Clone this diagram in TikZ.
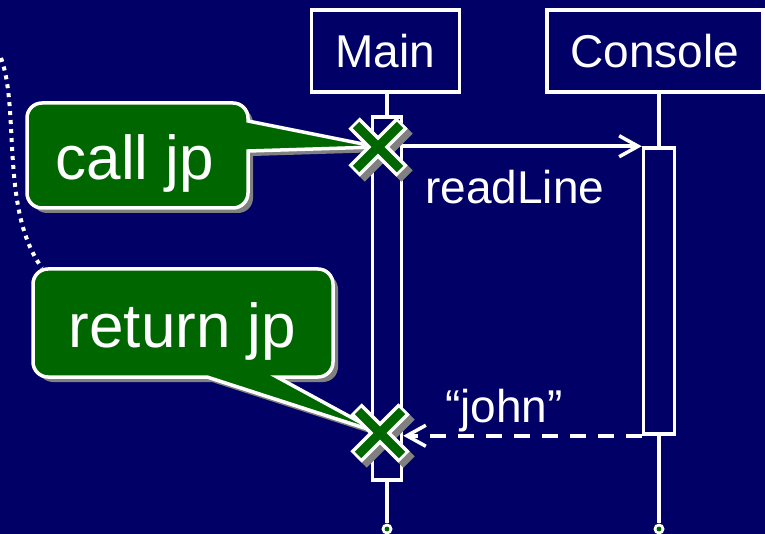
\documentclass[tikz,border=0pt]{standalone}
\usepackage{fontspec}
\setmainfont{Liberation Sans}
\usetikzlibrary{arrows.meta,shadows}
\definecolor{slidebg}{RGB}{0,0,102}
\definecolor{calloutgreen}{RGB}{0,102,0}
\definecolor{shadegray}{RGB}{128,128,128}
\begin{document}
\begin{tikzpicture}[x=1pt,y=-1pt,every node/.style={font=\fontsize{46}{50}\selectfont,text=white,inner sep=0pt},
  obj/.style={draw=white,line width=3.5pt,fill=slidebg,minimum height=82pt},
  act/.style={draw=white,line width=3.5pt,fill=slidebg},
  life/.style={draw=white,line width=3.5pt},
  msg/.style={draw=white,line width=3.5pt,-{Straight Barb[length=19pt,width=21pt]}},
  reply/.style={msg,dash pattern=on 16pt off 12pt},
  endpt/.style={circle,fill=white,minimum size=11pt},
  callout/.style={fill=calloutgreen,draw=white,line width=3.5pt,
    drop shadow={shadow xshift=5pt,shadow yshift=-5pt,fill=shadegray,opacity=1}},
  calltext/.style={font=\fontsize{62}{66}\selectfont},
  xshade/.style={draw=shadegray,line width=16pt},
  xrim/.style={draw=white,line width=16pt},
  xcore/.style={draw=calloutgreen,line width=9pt}]
% slide background
\fill[slidebg] (0,0) rectangle (765,534);
\useasboundingbox (0,0) rectangle (765,534);
% objects and activation bars
\node[obj,minimum width=148pt] (main) at (385.5,51) {Main};
\node[obj,minimum width=216pt] (console) at (655,51) {Console};
\node[endpt] (mainend) at (387,529) {};
\node[endpt] (conend) at (659,529) {};
\draw[life] (387,117) -- (main.south -| 387,0);
\draw[life] (387,480) -- (mainend.north);
\draw[life] (659,148) -- (console.south -| 659,0);
\draw[life] (659,434) -- (conend.north);
\fill[calloutgreen] (mainend) circle[radius=2.4];
\fill[calloutgreen] (conend) circle[radius=2.4];
\node[act,minimum width=29pt,minimum height=363pt] (mainact) at (387,298.5) {};
\node[act,minimum width=31pt,minimum height=286pt] (conact) at (659,291) {};
% messages
\draw[msg] (mainact.east |- conact.north) -- (conact.north west);
\draw[reply] (conact.south west) -- (mainact.east |- conact.south);
\node[anchor=base west] (readlbl) at (425,204) {readLine};
\node[anchor=base west] (johnlbl) at (445,422) {“john”};
% where the call starts and returns
\coordinate (xa) at (378,147);
\coordinate (xb) at (380,433);
\draw[white,line width=4pt,dash pattern=on 4pt off 5pt] (1,58) .. controls (20,110) and (0,210) .. (42,268);
\draw[callout] (42,103) -- (233,103) arc[start angle=-90,end angle=0,radius=15] -- (248,121) -- (xa) -- (248,151)
  -- (248,193) arc[start angle=0,end angle=90,radius=15] -- (42,208) arc[start angle=90,end angle=180,radius=15]
  -- (27,118) arc[start angle=180,end angle=270,radius=15] -- cycle;
\node[calltext,anchor=base] (calltxt) at (135,180) {call jp};
\draw[callout] (48,269) -- (318,269) arc[start angle=-90,end angle=0,radius=15] -- (333,362)
  arc[start angle=0,end angle=90,radius=15] -- (277,377) -- (xb) -- (207,377) -- (48,377)
  arc[start angle=90,end angle=180,radius=15] -- (33,284) arc[start angle=180,end angle=270,radius=15] -- cycle;
\node[calltext,anchor=base] (rettxt) at (182.5,347) {return jp};
% green crosses
\foreach \c in {xa,xb} {
  \draw[xshade] ([shift={(-19,-19)}]\c) -- ([shift={(29,29)}]\c) ([shift={(29,-19)}]\c) -- ([shift={(-19,29)}]\c);
  \draw[xrim] ([shift={(-24,-24)}]\c) -- ([shift={(24,24)}]\c) ([shift={(24,-24)}]\c) -- ([shift={(-24,24)}]\c);
  \draw[xcore] ([shift={(-22,-22)}]\c) -- ([shift={(22,22)}]\c) ([shift={(22,-22)}]\c) -- ([shift={(-22,22)}]\c);
}
\end{tikzpicture}
\end{document}
